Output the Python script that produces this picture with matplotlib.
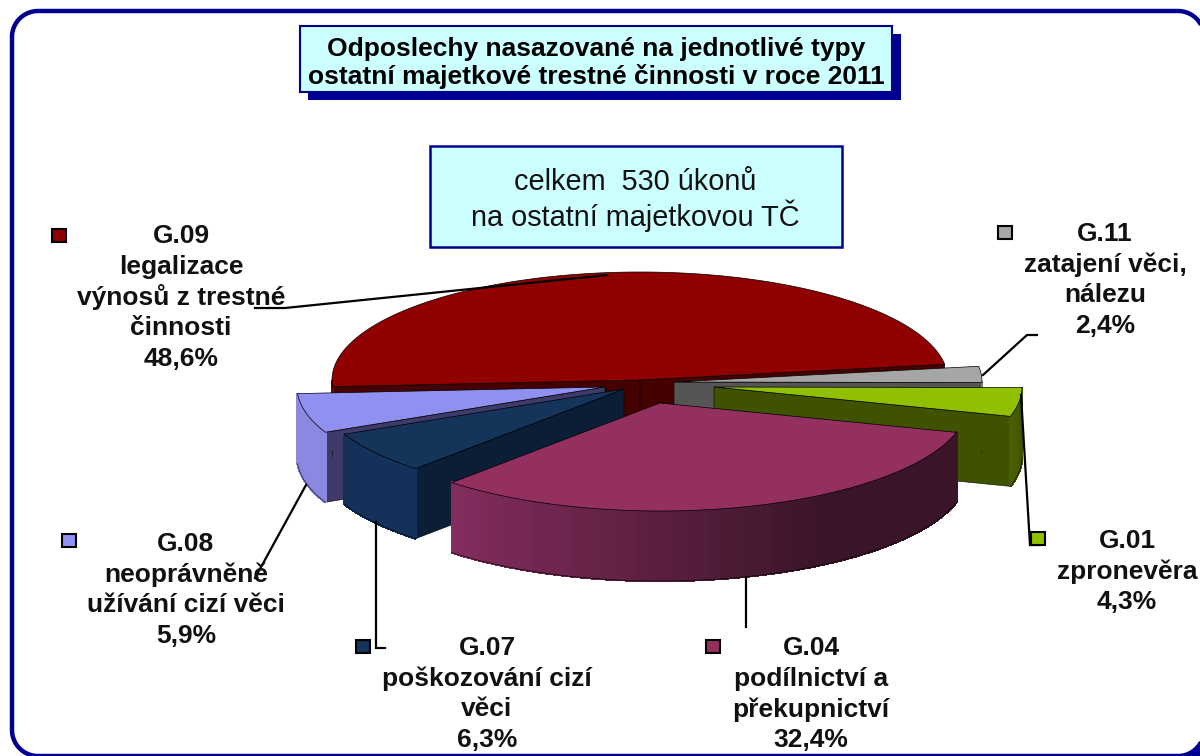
import numpy as np
import matplotlib
matplotlib.use('Agg')
import matplotlib.pyplot as plt
from matplotlib.patches import Polygon, Rectangle
from matplotlib.colors import to_rgb

plt.rcParams['font.family'] = ['Liberation Sans', 'DejaVu Sans']

# clockwise from the left edge of the big slice
codes = ['G.09', 'G.11', 'G.01', 'G.04', 'G.07', 'G.08']
names = [['legalizace', 'výnosů z trestné', 'činnosti'],
         ['zatajení věci,', 'nálezu'],
         ['zpronevěra'],
         ['podílnictví a', 'překupnictví'],
         ['poškozování cizí', 'věci'],
         ['neoprávněně', 'užívání cizí věci']]
shares = [48.6, 2.4, 4.3, 32.4, 6.3, 5.9]

# layout per slice, pixels
off_x = [0, 34, 74, 20, -16, -35]
off_y = [0, 2, 7, 23, 9, 7]
top_col = ['#900000', '#a6a6a6', '#90c000', '#943060', '#14345a', '#9090f0']
wall_col = ['#450000', '#555555', '#3f5200', '#3a1428', '#0b1e36', '#3f3a6a']
arc_light = ['#900000', '#8a8a8a', '#4a6000', '#852d5f', '#14315a', '#8a88e0']
arc_dark = ['#700000', '#666666', '#3f5200', '#3a1428', '#14315a', '#8a88e0']
label_x = [181, 1105, 1127, 811, 487, 186]
label_y = [236, 234, 541, 648, 648, 544]
key_x = [52, 998, 1031, 706, 356, 62]
key_y = [229, 226, 532, 640, 640, 534]
leaders = [[(607, 275), (285, 308), (255, 308)],
           [(983, 375), (1027, 335), (1037, 335)],
           [(1021, 395), (1030, 545), (1040, 545)],
           [(746, 578), (746, 627)],
           [(376, 522), (376, 648), (385, 648)],
           [(306, 485), (255, 578)]]

cx, cy = 640, 380
rx, ry = 308, 108
depth = 70
start = 176.5
frame_col = '#000090'
box_col = '#ccffff'

fig = plt.figure(figsize=(12, 7.56), dpi=100)
ax = fig.add_axes([0, 0, 1, 1])
ax.set_xlim(0, 1200)
ax.set_ylim(756, 0)
ax.axis('off')


def rim(x0, y0, t):
    r = np.radians(t)
    return x0 + rx * np.cos(r), y0 + ry * np.sin(r)


angles = start + np.cumsum([0] + [s * 360 / sum(shares) for s in shares])


def draw_slice(i):
    x0, y0 = cx + off_x[i], cy + off_y[i]
    t0, t1 = angles[i], angles[i + 1]
    # radial walls, only the ones facing the viewer
    for t, sign in ((t0, -1), (t1, 1)):
        if np.sin(np.radians(t + sign * 90)) > 0:
            x1, y1 = rim(x0, y0, t)
            ax.add_patch(Polygon([(x0, y0), (x1, y1), (x1, y1 + depth), (x0, y0 + depth)],
                                 fc=wall_col[i], ec='black', lw=0.4, zorder=2))
    # outer wall on the front half, cut in strips for the shading
    ts = np.linspace(t0, t1, 60)
    ts = ts[np.sin(np.radians(ts)) > -0.01]
    for a, b in zip(ts[:-1], ts[1:]):
        xa, ya = rim(x0, y0, a)
        xb, yb = rim(x0, y0, b)
        k = np.clip((ts[-1] - a) / (0.65 * (ts[-1] - ts[0])), 0, 1)
        col = np.array(to_rgb(arc_light[i])) * (1 - k) + np.array(to_rgb(arc_dark[i])) * k
        ax.add_patch(Polygon([(xa, ya), (xb, yb), (xb, yb + depth), (xa, ya + depth)],
                             fc=col, ec=col, lw=1.0, antialiased=False, zorder=2))
    if len(ts) > 1:
        xs, ys = rim(x0, y0, ts)
        ax.plot(xs, ys + depth, color='black', lw=0.4, zorder=2.5)
    # top face
    ts = np.linspace(t0, t1, 200)
    xs, ys = rim(x0, y0, ts)
    pts = [(x0, y0)] + list(zip(xs, ys))
    ax.add_patch(Polygon(pts, fc=top_col[i], ec='black', lw=0.5, zorder=2))


# back to front
for i in [0, 1, 2, 5, 4, 3]:
    draw_slice(i)

# leader lines
for pts in leaders:
    ax.plot([p[0] for p in pts], [p[1] for p in pts], color='black', lw=1.6, zorder=3,
            solid_joinstyle='miter')

# labels and colour keys
for i, code in enumerate(codes):
    lines = [code] + names[i] + [f'{shares[i]:.1f}%'.replace('.', ',')]
    for k, line in enumerate(lines):
        ax.text(label_x[i], label_y[i] + k * 30.7, line, ha='center', va='center',
                fontsize=19, fontweight='bold', color='#111111', zorder=5)
    ax.add_patch(Rectangle((key_x[i], key_y[i]), 14, 13, fc=top_col[i], ec='black', lw=1.5, zorder=5))

# title box with shadow
ax.add_patch(Rectangle((308, 34), 593, 66, fc=frame_col, ec='none', zorder=6))
ax.add_patch(Rectangle((300, 26), 592, 66, fc=box_col, ec=frame_col, lw=1.5, zorder=7))
ax.text(596, 63, 'Odposlechy nasazované na jednotlivé typy\nostatní majetkové trestné činnosti v roce 2011',
        ha='center', va='center', fontsize=19, fontweight='bold', color='black',
        linespacing=1.18, zorder=8)

# total box
ax.add_patch(Rectangle((430, 146), 412, 101, fc=box_col, ec=frame_col, lw=1.8, zorder=7))
ax.text(635, 200, 'celkem  530 úkonů\nna ostatní majetkovou TČ', ha='center', va='center',
        fontsize=20.8, color='#111111', linespacing=1.12, zorder=8)


def corner(x, y, t0, t1, r=26):
    t = np.radians(np.linspace(t0, t1, 30))
    return list(zip(x + r * np.cos(t), y + r * np.sin(t)))


# outer frame runs off the right and bottom of the picture
left, right, top, bottom = 12, 1204, 11, 756
frame = (corner(left + 26, top + 26, 180, 270) + corner(right - 26, top + 26, 270, 360)
         + corner(right - 26, bottom - 26, 0, 90) + corner(left + 26, bottom - 26, 90, 180))
ax.add_patch(Polygon(frame, closed=True, fc='none', ec=frame_col, lw=3.2, zorder=9))
# the corner outside the frame, bottom right, is solid blue
ax.add_patch(Polygon(corner(right - 26, bottom - 26, 0, 90) + [(right, bottom)],
                     fc=frame_col, ec='none', zorder=9))

fig.savefig('out.png', dpi=100, facecolor='white')
